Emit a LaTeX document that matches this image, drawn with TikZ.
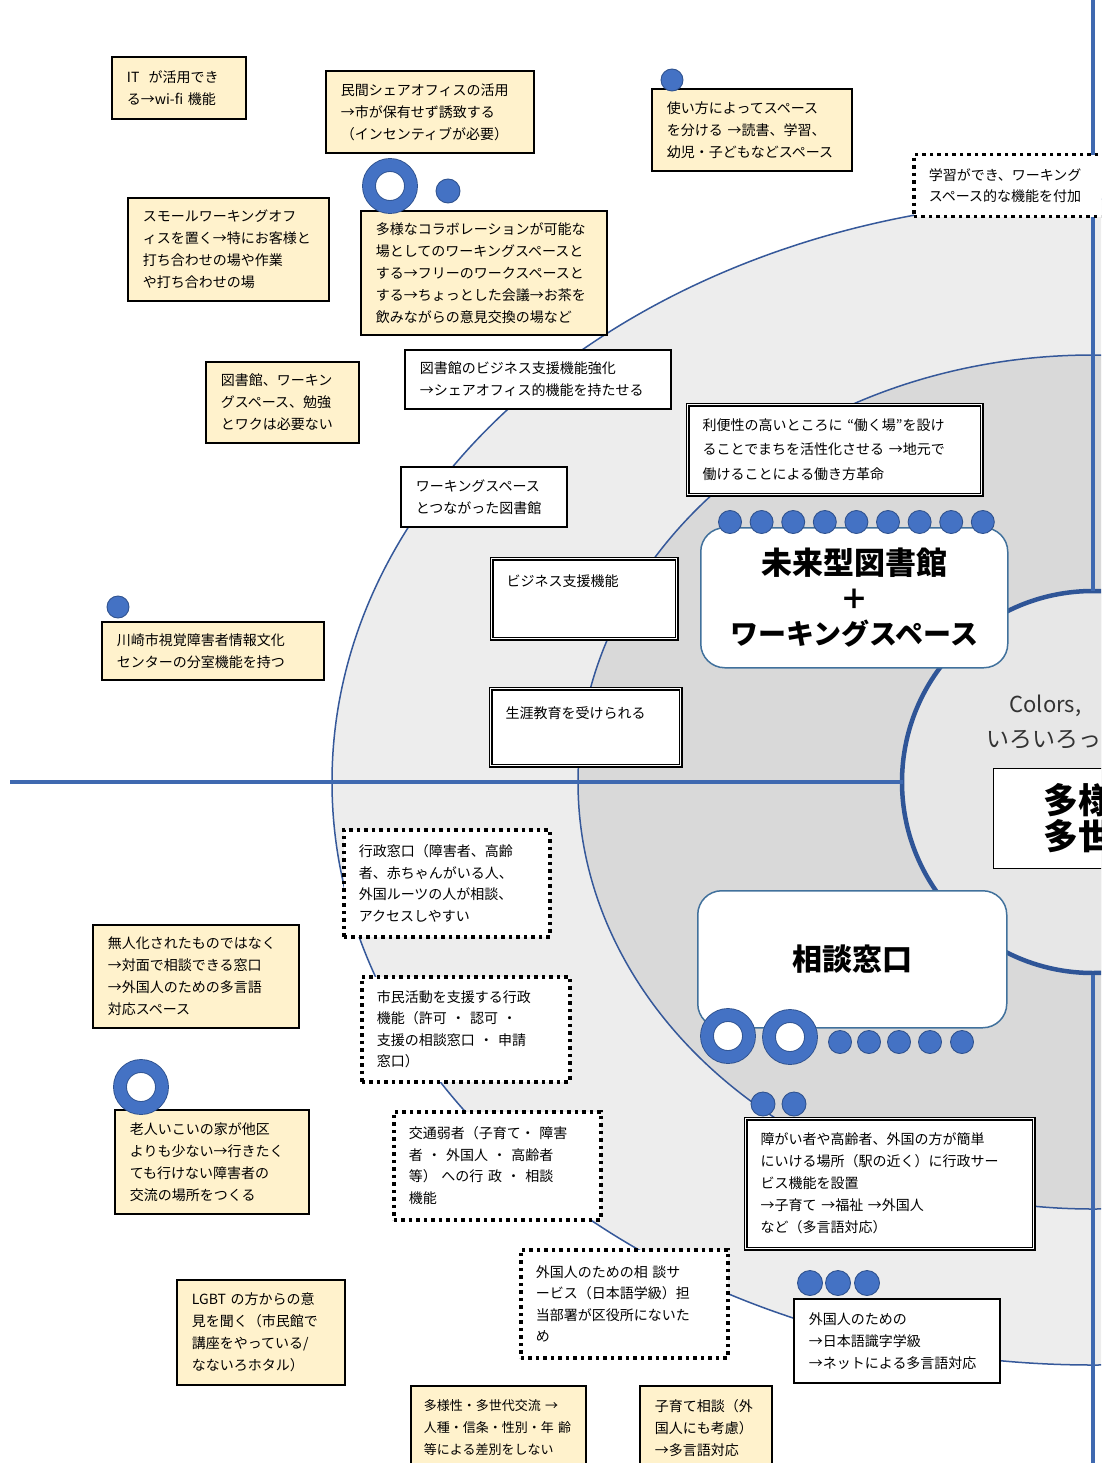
\documentclass[tikz,border=0pt]{standalone}
\usepackage{fontspec}
\setmainfont{Noto Sans CJK JP}
\definecolor{creamc}{HTML}{FFF2CC}
\definecolor{outerfill}{HTML}{EDEDED}
\definecolor{midfill}{HTML}{D9D9D9}
\definecolor{innerfill}{HTML}{E7E7E7}
\definecolor{axisblue}{HTML}{3F69B0}
\definecolor{ringline}{HTML}{2F5597}
\definecolor{thinblue}{HTML}{35589A}
\definecolor{dotblue}{HTML}{4472C4}
\definecolor{dotedge}{HTML}{2F528F}
\definecolor{titleblue}{HTML}{41719C}
\definecolor{graytext}{HTML}{333333}
\begin{document}
\begin{tikzpicture}[x=1pt,y=-1pt,
  base/.style={anchor=north west, align=left, inner xsep=15pt, inner ysep=0pt, font=\fontsize{14}{22}\selectfont, text=black},
  cream/.style={base, draw=black, line width=1.8pt, fill=creamc},
  wbox/.style={base, draw=black, line width=1.8pt, fill=white},
  dbox/.style={base, draw=black, double=white, double distance=1.5pt, line width=1.3pt, fill=white},
  dotbox/.style={base, draw=black, line width=3.5pt, dash pattern=on 3.5pt off 4pt, fill=white, font=\fontsize{14}{21.5}\selectfont},
  titlebox/.style={anchor=north west, draw=titleblue, line width=1.5pt, rounded corners=24pt, fill=white, align=center, inner sep=0pt, font=\bfseries\fontsize{28}{35}\selectfont},
  bdot/.style={circle, draw=dotedge, line width=0.9pt, fill=dotblue, minimum size=#1, inner sep=0pt},
  ring/.style={circle, draw=dotedge, double=dotblue, line width=0.9pt, double distance=12pt, fill=white, minimum size=42pt, inner sep=0pt},
]
\path[use as bounding box] (0,0) rectangle (1101,1463);
\clip (0,0) rectangle (1101,1463);
\fill[white] (0,0) rectangle (1101,1463);
% concentric zones
\fill[outerfill] (1093,782) ellipse [x radius=761, y radius=583];
\draw[thinblue, line width=1.5pt] (1093,782) ellipse [x radius=761, y radius=583];
\fill[midfill] (1093,782) ellipse [x radius=515, y radius=427];
\draw[thinblue, line width=1.5pt] (1093,782) ellipse [x radius=515, y radius=427];
\fill[innerfill] (1093,782) circle [radius=191];
\draw[ringline, line width=4.5pt] (1093,782) circle [radius=191];
% axes
\draw[axisblue, line width=4.5pt] (10,782) -- (903,782);
\draw[axisblue, line width=4pt] (1093,0) -- (1093,591);
\draw[axisblue, line width=4pt] (1093,975) -- (1093,1463);

% cream boxes
\node[cream, minimum width=134pt, minimum height=62pt, text width=104pt] (n1) at (111,56) {IT\ \ が活用でき\\る→wi-fi 機能};
\node[cream, minimum width=208pt, minimum height=82pt, text width=178pt] (n2) at (325,70) {民間シェアオフィスの活用\\→市が保有せず誘致する\\（インセンティブが必要）};
\node[cream, minimum width=200pt, minimum height=82pt, text width=170pt] (n3) at (651,88) {使い方によってスペース\\を分ける →読書、学習、\\幼児・子どもなどスペース};
\node[cream, minimum width=201pt, minimum height=103pt, text width=171pt] (n4) at (127,197) {スモールワーキングオフ\\ィスを置く→特にお客様と\\打ち合わせの場や作業\\や打ち合わせの場};
\node[cream, minimum width=246pt, minimum height=124pt, text width=216pt] (n5) at (360,210) {多様なコラボレーションが可能な\\場としてのワーキングスペースと\\する→フリーのワークスペースと\\する→ちょっとした会議→お茶を\\飲みながらの意見交換の場など};
\node[cream, minimum width=153pt, minimum height=81pt, text width=123pt] (n6) at (205,361) {図書館、ワーキン\\グスペース、勉強\\とワクは必要ない};
\node[cream, minimum width=222pt, minimum height=58pt, text width=192pt] (n7) at (101,621) {川崎市視覚障害者情報文化\\センターの分室機能を持つ};
\node[cream, minimum width=206pt, minimum height=103pt, text width=176pt] (n8) at (92,924) {無人化されたものではなく\\→対面で相談できる窓口\\→外国人のための多言語\\対応スペース};
\node[cream, minimum width=194pt, minimum height=104pt, text width=164pt] (n9) at (114,1109) {老人いこいの家が他区\\よりも少ない→行きたく\\ても行けない障害者の\\交流の場所をつくる};
\node[cream, minimum width=168pt, minimum height=105pt, text width=138pt] (n10) at (176,1279) {LGBT の方からの意\\見を聞く（市民館で\\講座をやっている/\\なないろホタル）};
\node[cream, minimum width=175pt, minimum height=84pt, text width=149pt, inner xsep=13pt, font=\fontsize{13}{22}\selectfont] (n11) at (410,1385) {多様性・多世代交流~→\\人種・信条・性別・年~齢\\等による差別をしない};
\node[cream, minimum width=132pt, minimum height=84pt, text width=102pt] (n12) at (639,1385) {子育て相談（外\\国人にも考慮）\\→多言語対応};

% white boxes
\node[wbox, minimum width=266pt, minimum height=59pt, text width=236pt] (n13) at (404,349) {図書館のビジネス支援機能強化\\→シェアオフィス的機能を持たせる};
\node[wbox, minimum width=166pt, minimum height=60pt, text width=136pt] (n14) at (400,466) {ワーキングスペース\\とつながった図書館};
\node[dbox, minimum width=294pt, minimum height=90pt, text width=264pt, inner xsep=15pt, font=\fontsize{14}{24.5}\selectfont] (n15) at (687,404) {利便性の高いところに “働く場”を設け\\ることでまちを活性化させる →地元で\\働けることによる働き方革命};
\node[dbox, minimum width=185pt, minimum height=80pt, text width=155pt] (n16) at (491,558) {ビジネス支援機能\\[14pt]\mbox{}};
\node[dbox, minimum width=190pt, minimum height=77pt, text width=160pt] (n17) at (490,688) {生涯教育を受けられる\\[7pt]\mbox{}};
\node[dbox, minimum width=288pt, minimum height=130pt, text width=258pt] (n18) at (745,1118) {障がい者や高齢者、外国の方が簡単\\にいける場所（駅の近く）に行政サー\\ビス機能を設置\\→子育て →福祉 →外国人\\など（多言語対応）};
\node[wbox, minimum width=206pt, minimum height=84pt, text width=176pt] (n19) at (793,1298) {外国人のための\\→日本語識字学級\\→ネットによる多言語対応};

% dotted boxes
\node[dotbox, minimum width=200pt, minimum height=62pt, text width=170pt] (n20) at (912,153) {学習ができ、ワーキング\\スペース的な機能を付加};
\node[dotbox, minimum width=206pt, minimum height=107pt, text width=176pt] (n21) at (342,828) {行政窓口（障害者、高齢\\者、赤ちゃんがいる人、\\外国ルーツの人が相談、\\アクセスしやすい};
\node[dotbox, minimum width=208pt, minimum height=105pt, text width=178pt] (n22) at (360,975) {市民活動を支援する行政\\機能（許可 ・ 認可 ・\\支援の相談窓口 ・ 申請\\窓口）};
\node[dotbox, minimum width=207pt, minimum height=108pt, text width=177pt] (n23) at (392,1110) {交通弱者（子育て・ 障害\\者 ・ 外国人 ・ 高齢者\\等） への行 政 ・ 相談\\機能};
\node[dotbox, minimum width=207pt, minimum height=108pt, text width=177pt] (n24) at (519,1248) {外国人のための相 談サ\\ービス（日本語学級）担\\当部署が区役所にないた\\め};

% title boxes
\node[titlebox, minimum width=307pt, minimum height=140pt] (t1) at (700,527) {{\fontsize{31}{35}\selectfont 未来型図書館}\\＋\\ワーキングスペース};
\node[titlebox, minimum width=309pt, minimum height=137pt, font=\bfseries\fontsize{30}{35}\selectfont] (t2) at (697,890) {相談窓口};

% centre texts
\node[anchor=west, font=\fontsize{22}{26}\selectfont, text=graytext] (c1) at (1006,706) {Colors,};
\node[anchor=west, font=\fontsize{23}{26}\selectfont, text=graytext] (c2) at (983,740) {いろいろっ};
\node[anchor=north west, draw=black, line width=1.2pt, fill=white, minimum width=130pt, minimum height=100pt, inner xsep=50pt, inner ysep=0pt, text width=60pt, align=left, font=\bfseries\fontsize{35}{36}\selectfont] (ct) at (993,768) {多様\\多世};

% dots and rings
\node[bdot=22pt] (d0) at (672,80) {};
\node[ring] (r1) at (390,186) {};
\node[bdot=24pt] (d1) at (448,191) {};
\node[bdot=22pt] (d2) at (118,607) {};
\foreach \i in {0,...,8} {\node[bdot=23pt] (td\i) at ({730+31.6*\i},522) {};}
\node[ring] (r2) at (141,1087) {};
\node[ring] (r3) at (728,1036) {};
\node[ring] (r4) at (790,1037) {};
\foreach \xx [count=\k] in {840,869,899,930,962} {\node[bdot=23pt] (sd\k) at (\xx,1042) {};}
\node[bdot=24pt] (ed1) at (763,1104) {};
\node[bdot=24pt] (ed2) at (794,1104) {};
\node[bdot=25pt] (fd1) at (810,1283) {};
\node[bdot=25pt] (fd2) at (838,1283) {};
\node[bdot=25pt] (fd3) at (867,1283) {};
\end{tikzpicture}
\end{document}
